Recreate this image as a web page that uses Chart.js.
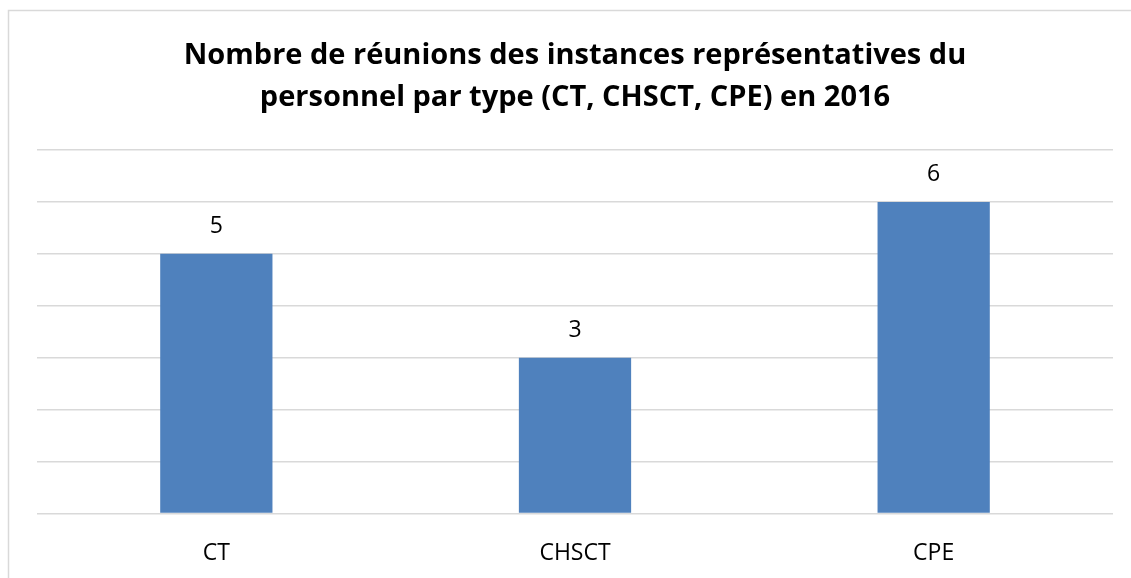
<!DOCTYPE html>
<html><head><meta charset="utf-8">
<script src="https://cdn.jsdelivr.net/npm/chart.js@4/dist/chart.umd.min.js"></script>
<style>html,body{margin:0;padding:0;background:#fff;}#wrap{width:1131px;height:578px;position:relative;}</style>
</head><body><div id="wrap"><canvas id="c"></canvas></div>
<script>
const categories = ["CT", "CHSCT", "CPE"];
const values = [5, 3, 6];
const titleLines = ["Nombre de réunions des instances représentatives du", "personnel par type (CT, CHSCT, CPE) en 2016"];
const FONT = "'Open Sans', Lato, sans-serif";

const borderPlugin = {
  id: 'borderBox',
  beforeDraw(chart) {
    const ctx = chart.ctx;
    ctx.save();
    ctx.fillStyle = '#fff';
    ctx.fillRect(0, 0, chart.width, chart.height);
    ctx.strokeStyle = '#d9d9d9';
    ctx.lineWidth = 1.5;
    ctx.strokeRect(8.5, 10.5, 1200, 700);
    ctx.restore();
  }
};
const labelPlugin = {
  id: 'valueLabels',
  afterDatasetsDraw(chart) {
    const ctx = chart.ctx;
    const meta = chart.getDatasetMeta(0);
    ctx.save();
    ctx.font = "23px " + FONT;
    ctx.fillStyle = '#000';
    ctx.textAlign = 'center';
    ctx.textBaseline = 'middle';
    meta.data.forEach((bar, i) => {
      ctx.fillText(String(chart.data.datasets[0].data[i]), bar.x, bar.y - 27);
    });
    ctx.restore();
  }
};

new Chart(document.getElementById('c'), {
  type: 'bar',
  data: {
    labels: categories,
    datasets: [{
      data: values,
      backgroundColor: '#4f81bd',
      categoryPercentage: 1,
      barPercentage: 0.313
    }]
  },
  options: {
    responsive: true,
    maintainAspectRatio: false,
    animation: false,
    layout: { padding: { left: 37, right: 18, top: 0, bottom: 0 } },
    plugins: {
      legend: { display: false },
      tooltip: { enabled: false },
      title: {
        display: true,
        text: titleLines,
        color: '#000',
        font: { family: FONT, size: 29, weight: 'bold', lineHeight: 1.448 },
        padding: { top: 35, bottom: 31 }
      }
    },
    scales: {
      x: {
        grid: { display: false },
        border: { display: false },
        ticks: { color: '#000', font: { family: FONT, size: 23 }, padding: 18 },
        afterFit(axis) { axis.height = 64.5; }
      },
      y: {
        min: 0, max: 7,
        ticks: { display: false, stepSize: 1 },
        border: { display: false },
        grid: { color: '#d9d9d9', lineWidth: 1.5, drawTicks: false },
        afterFit(axis) { axis.width = 0; }
      }
    }
  },
  plugins: [borderPlugin, labelPlugin]
});
</script></body></html>
